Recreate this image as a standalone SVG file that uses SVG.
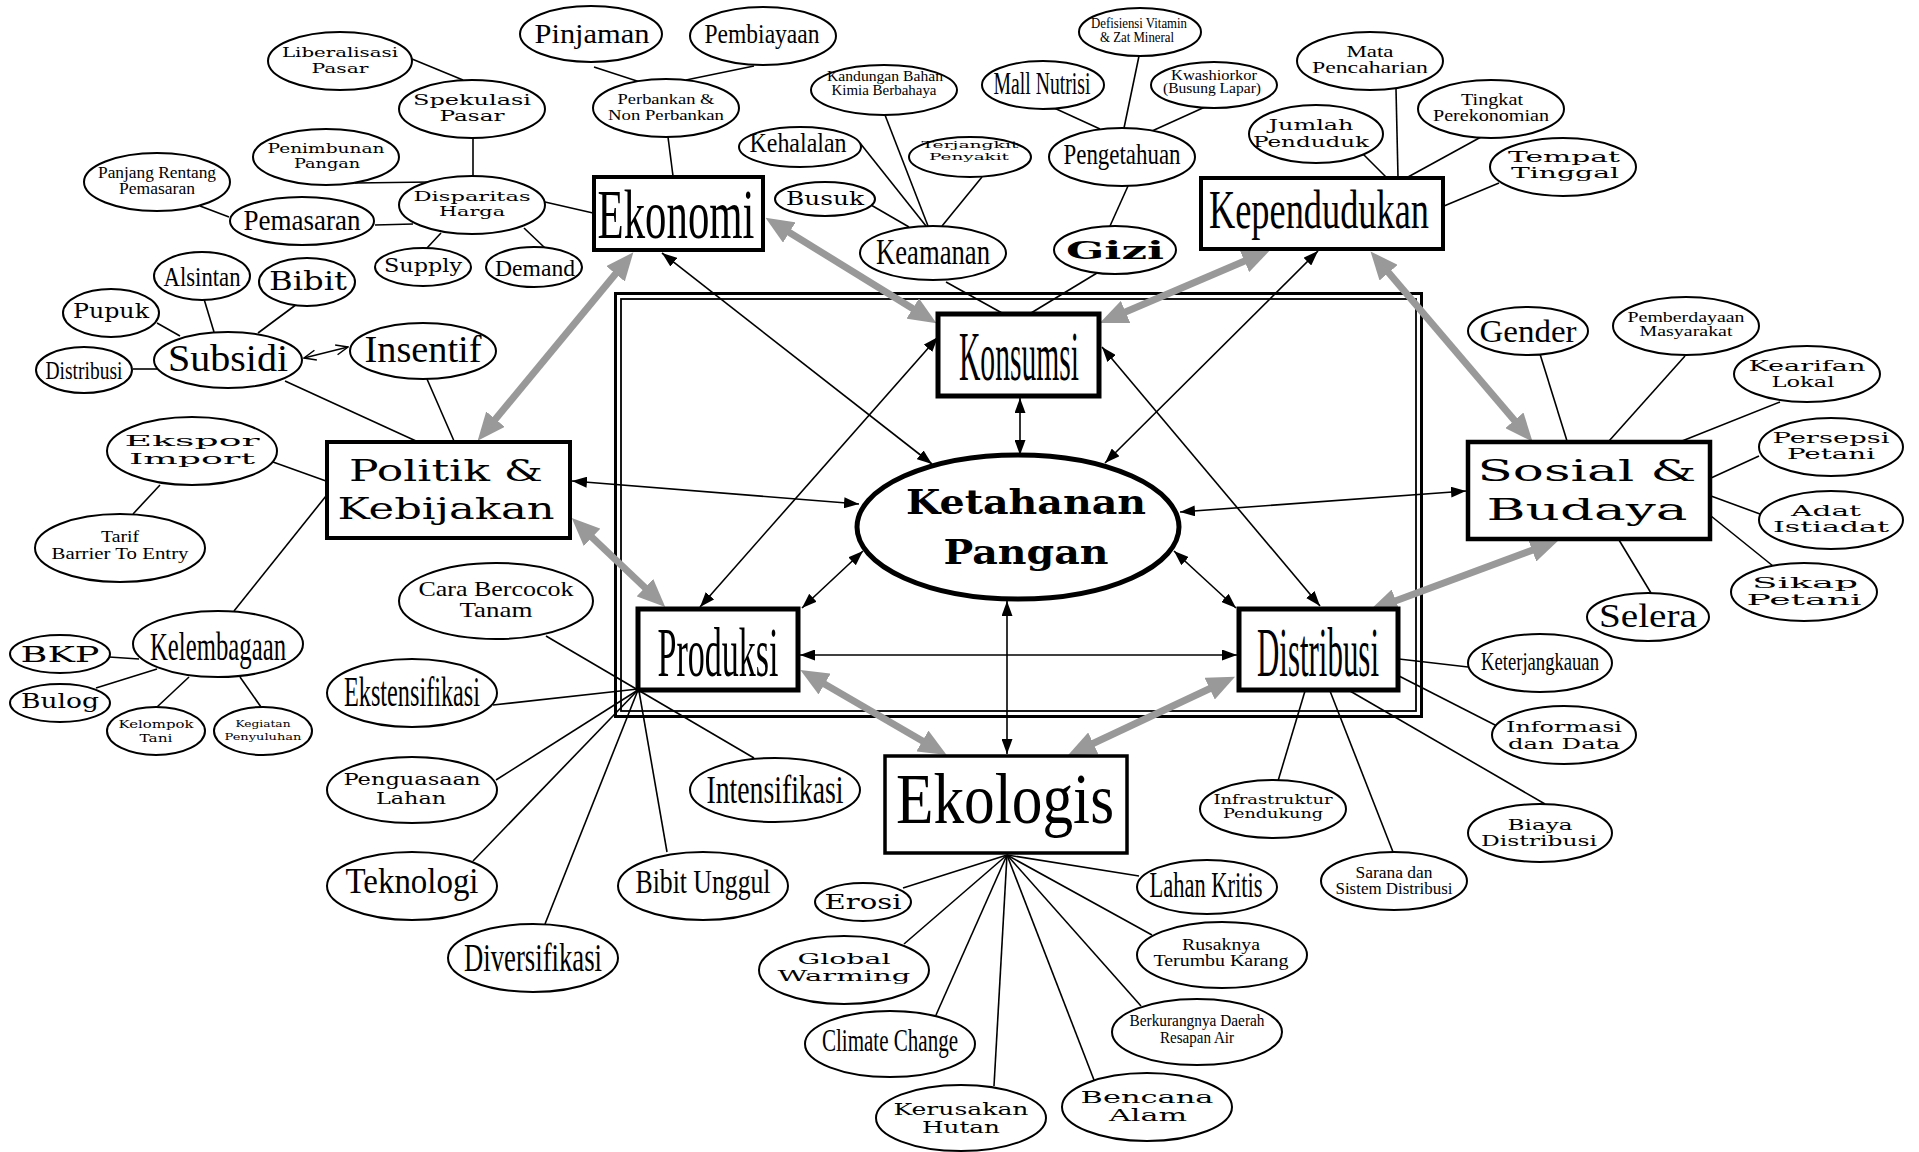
<svg xmlns="http://www.w3.org/2000/svg" width="1919" height="1152" viewBox="0 0 1919 1152">
<style>
text{fill:#000;text-anchor:middle}
.c,.r{font-family:"Liberation Serif",serif}
.w{font-family:"DejaVu Serif",serif}
.b{font-family:"DejaVu Serif",serif;font-weight:bold}
.n ellipse{fill:#fff;stroke:#000;stroke-width:2}
.box{fill:#fff;stroke:#000}
#connectors line{stroke:#000;stroke-width:1.6}
#connectors .g{stroke:#999;stroke-width:7;marker-start:url(#ga);marker-end:url(#ga)}
#connectors .a{marker-start:url(#ba);marker-end:url(#ba)}
</style>
<defs>
<marker id="ga" markerUnits="userSpaceOnUse" viewBox="0 0 28 24" markerWidth="28" markerHeight="24" refX="18" refY="12" orient="auto-start-reverse"><path d="M0,0 L28,12 L0,24 z" fill="#999"/></marker>
<marker id="ba" markerUnits="userSpaceOnUse" viewBox="0 0 15 11" markerWidth="15" markerHeight="11" refX="15" refY="5.5" orient="auto-start-reverse"><path d="M0,0 L15,5.5 L0,11 z" fill="#000"/></marker>
<marker id="oa" markerUnits="userSpaceOnUse" viewBox="0 0 14 12" markerWidth="14" markerHeight="12" refX="13" refY="6" orient="auto-start-reverse"><path d="M1,1 L13,6 L1,11" fill="none" stroke="#000" stroke-width="1.5"/></marker>
</defs>
<rect width="1919" height="1152" fill="#fff"/>
<g id="frame" fill="none" stroke="#000">
<rect x="615.5" y="293.5" width="806" height="423" stroke-width="3"/>
<rect x="621" y="299" width="795" height="412" stroke-width="1.8"/>
</g>
<g id="connectors">
<line x1="594" y1="67" x2="640" y2="82"/>
<line x1="754" y1="66" x2="686" y2="80"/>
<line x1="668" y1="137" x2="673" y2="176"/>
<line x1="545" y1="202" x2="593" y2="213"/>
<line x1="473" y1="138" x2="473" y2="176"/>
<line x1="412" y1="59" x2="463" y2="80"/>
<line x1="355" y1="183" x2="431" y2="182"/>
<line x1="375" y1="225" x2="413" y2="224"/>
<line x1="200" y1="206" x2="229" y2="217"/>
<line x1="441" y1="233" x2="427" y2="248"/>
<line x1="524" y1="228" x2="545" y2="248"/>
<line x1="157" y1="323" x2="180" y2="336"/>
<line x1="204" y1="299" x2="214" y2="332"/>
<line x1="297" y1="304" x2="258" y2="333"/>
<line x1="133" y1="369" x2="157" y2="369"/>
<line x1="285" y1="381" x2="416" y2="441"/>
<line x1="427" y1="379" x2="454" y2="441"/>
<line x1="304" y1="358" x2="348" y2="347" marker-start="url(#oa)" marker-end="url(#oa)"/>
<line x1="273" y1="462" x2="326" y2="481"/>
<line x1="160" y1="485" x2="133" y2="514"/>
<line x1="326" y1="496" x2="234" y2="611"/>
<line x1="109" y1="657" x2="139" y2="659"/>
<line x1="96" y1="688" x2="157" y2="669"/>
<line x1="157" y1="707" x2="189" y2="677"/>
<line x1="261" y1="707" x2="240" y2="677"/>
<line x1="546" y1="636" x2="638" y2="690"/>
<line x1="638" y1="690" x2="754" y2="758"/>
<line x1="493" y1="705" x2="638" y2="689"/>
<line x1="496" y1="780" x2="638" y2="690"/>
<line x1="473" y1="861" x2="638" y2="690"/>
<line x1="545" y1="924" x2="638" y2="690"/>
<line x1="667" y1="852" x2="639" y2="691"/>
<line x1="1007" y1="855" x2="903" y2="888"/>
<line x1="1007" y1="855" x2="904" y2="944"/>
<line x1="1007" y1="855" x2="936" y2="1015"/>
<line x1="1007" y1="855" x2="994" y2="1086"/>
<line x1="1007" y1="855" x2="1094" y2="1080"/>
<line x1="1007" y1="855" x2="1141" y2="1006"/>
<line x1="1007" y1="855" x2="1152" y2="935"/>
<line x1="1007" y1="855" x2="1139" y2="876"/>
<line x1="1399" y1="659" x2="1468" y2="667"/>
<line x1="1399" y1="676" x2="1497" y2="726"/>
<line x1="1350" y1="691" x2="1545" y2="804"/>
<line x1="1330" y1="691" x2="1393" y2="852"/>
<line x1="1305" y1="691" x2="1278" y2="781"/>
<line x1="1540" y1="354" x2="1567" y2="441"/>
<line x1="1685" y1="356" x2="1609" y2="441"/>
<line x1="1780" y1="402" x2="1682" y2="441"/>
<line x1="1759" y1="456" x2="1711" y2="478"/>
<line x1="1760" y1="514" x2="1711" y2="496"/>
<line x1="1773" y1="566" x2="1711" y2="516"/>
<line x1="1651" y1="593" x2="1619" y2="540"/>
<line x1="1363" y1="154" x2="1386" y2="177"/>
<line x1="1396" y1="89" x2="1398" y2="177"/>
<line x1="1481" y1="137" x2="1408" y2="177"/>
<line x1="1499" y1="183" x2="1444" y2="206"/>
<line x1="860" y1="143" x2="926" y2="226"/>
<line x1="885" y1="115" x2="928" y2="226"/>
<line x1="982" y1="177" x2="942" y2="226"/>
<line x1="871" y1="205" x2="909" y2="227"/>
<line x1="946" y1="282" x2="1002" y2="313"/>
<line x1="1097" y1="273" x2="1031" y2="313"/>
<line x1="1128" y1="186" x2="1110" y2="226"/>
<line x1="1052" y1="107" x2="1100" y2="129"/>
<line x1="1139" y1="56" x2="1124" y2="128"/>
<line x1="1205" y1="107" x2="1152" y2="131"/>
<line class="a" x1="1020" y1="398" x2="1020" y2="455"/>
<line class="a" x1="1007" y1="601" x2="1007" y2="754"/>
<line class="a" x1="800" y1="655" x2="1237" y2="655"/>
<line class="a" x1="863" y1="551" x2="802" y2="608"/>
<line class="a" x1="1174" y1="551" x2="1236" y2="608"/>
<line class="a" x1="1180" y1="512" x2="1466" y2="491"/>
<line class="a" x1="859" y1="504" x2="572" y2="481"/>
<line class="a" x1="662" y1="253" x2="932" y2="464"/>
<line class="a" x1="1318" y1="251" x2="1105" y2="463"/>
<line class="a" x1="938" y1="337" x2="700" y2="607"/>
<line class="a" x1="1102" y1="347" x2="1320" y2="606"/>
<line class="g" x1="627" y1="260" x2="484" y2="433"/>
<line class="g" x1="774" y1="223" x2="928" y2="318"/>
<line class="g" x1="1109" y1="319" x2="1261" y2="254"/>
<line class="g" x1="1377" y1="259" x2="1526" y2="434"/>
<line class="g" x1="1549" y1="544" x2="1379" y2="607"/>
<line class="g" x1="1226" y1="681" x2="1077" y2="751"/>
<line class="g" x1="809" y1="675" x2="938" y2="750"/>
<line class="g" x1="579" y1="525" x2="658" y2="600"/>
</g>
<g id="ketahanan-pangan"><ellipse cx="1018" cy="527" rx="161" ry="72" fill="#fff" stroke="#000" stroke-width="5"/>
<text class="b" x="1026" y="514" font-size="34" textLength="240" lengthAdjust="spacingAndGlyphs">Ketahanan</text>
<text class="b" x="1026" y="564" font-size="34" textLength="165" lengthAdjust="spacingAndGlyphs">Pangan</text></g>
<g id="ekonomi"><rect class="box" x="594" y="177" width="169" height="73" stroke-width="4"/><text class="c" x="676" y="238" font-size="70" textLength="157" lengthAdjust="spacingAndGlyphs">Ekonomi</text></g>
<g id="konsumsi"><rect class="box" x="938" y="314" width="161" height="82" stroke-width="5"/><text class="c" x="1019" y="380" font-size="70" textLength="120" lengthAdjust="spacingAndGlyphs">Konsumsi</text></g>
<g id="kependudukan"><rect class="box" x="1201" y="178" width="242" height="71" stroke-width="4"/><text class="c" x="1319" y="228" font-size="54" textLength="220" lengthAdjust="spacingAndGlyphs">Kependudukan</text></g>
<g id="politik"><rect class="box" x="327" y="442" width="243" height="96" stroke-width="4"/>
<text class="w" x="446" y="481" font-size="30" textLength="194" lengthAdjust="spacingAndGlyphs">Politik &amp;</text>
<text class="w" x="446" y="519" font-size="30" textLength="217" lengthAdjust="spacingAndGlyphs">Kebijakan</text></g>
<g id="sosial"><rect class="box" x="1468" y="442" width="242" height="97" stroke-width="4.5"/>
<text class="w" x="1587" y="481" font-size="30" textLength="219" lengthAdjust="spacingAndGlyphs">Sosial &amp;</text>
<text class="w" x="1587" y="520" font-size="30" textLength="201" lengthAdjust="spacingAndGlyphs">Budaya</text></g>
<g id="produksi"><rect class="box" x="638" y="609" width="160" height="81" stroke-width="5"/><text class="c" x="718" y="676" font-size="70" textLength="121" lengthAdjust="spacingAndGlyphs">Produksi</text></g>
<g id="distribusi"><rect class="box" x="1239" y="609" width="159" height="81" stroke-width="5"/><text class="c" x="1318" y="676" font-size="70" textLength="122" lengthAdjust="spacingAndGlyphs">Distribusi</text></g>
<g id="ekologis"><rect class="box" x="885" y="756" width="242" height="97" stroke-width="3.5"/><text class="r" x="1005" y="823" font-size="72" textLength="218" lengthAdjust="spacingAndGlyphs">Ekologis</text></g>
<g class="n">
<g id="pinjaman"><ellipse cx="591" cy="34" rx="71" ry="28"/><text class="c" x="592" y="43" font-size="27" textLength="115" lengthAdjust="spacingAndGlyphs">Pinjaman</text></g>
<g id="pembiayaan"><ellipse cx="763" cy="36" rx="73" ry="29"/><text class="c" x="762" y="43" font-size="27" textLength="115" lengthAdjust="spacingAndGlyphs">Pembiayaan</text></g>
<g id="perbankan"><ellipse cx="666" cy="108" rx="73" ry="29"/><text class="r" x="666" y="104" font-size="15" textLength="97" lengthAdjust="spacingAndGlyphs">Perbankan &amp;</text><text class="r" x="666" y="120" font-size="15" textLength="116" lengthAdjust="spacingAndGlyphs">Non Perbankan</text></g>
<g id="liberalisasi"><ellipse cx="340" cy="61" rx="72" ry="29"/><text class="w" x="340" y="57" font-size="13" textLength="116" lengthAdjust="spacingAndGlyphs">Liberalisasi</text><text class="w" x="340" y="73" font-size="13" textLength="57" lengthAdjust="spacingAndGlyphs">Pasar</text></g>
<g id="spekulasi"><ellipse cx="472" cy="109" rx="73" ry="29"/><text class="w" x="472" y="105" font-size="14" textLength="118" lengthAdjust="spacingAndGlyphs">Spekulasi</text><text class="w" x="472" y="121" font-size="14" textLength="65" lengthAdjust="spacingAndGlyphs">Pasar</text></g>
<g id="penimbunan"><ellipse cx="326" cy="157" rx="73" ry="28"/><text class="w" x="326" y="153" font-size="13" textLength="117" lengthAdjust="spacingAndGlyphs">Penimbunan</text><text class="w" x="327" y="168" font-size="13" textLength="66" lengthAdjust="spacingAndGlyphs">Pangan</text></g>
<g id="panjang"><ellipse cx="157" cy="182" rx="73" ry="29"/><text class="r" x="157" y="178" font-size="16" textLength="118" lengthAdjust="spacingAndGlyphs">Panjang Rentang</text><text class="r" x="157" y="194" font-size="16" textLength="76" lengthAdjust="spacingAndGlyphs">Pemasaran</text></g>
<g id="pemasaran"><ellipse cx="302" cy="221" rx="72" ry="24"/><text class="c" x="302" y="230" font-size="30" textLength="117" lengthAdjust="spacingAndGlyphs">Pemasaran</text></g>
<g id="disparitas"><ellipse cx="472" cy="205" rx="73" ry="29"/><text class="w" x="472" y="201" font-size="13" textLength="117" lengthAdjust="spacingAndGlyphs">Disparitas</text><text class="w" x="472" y="216" font-size="13" textLength="66" lengthAdjust="spacingAndGlyphs">Harga</text></g>
<g id="supply"><ellipse cx="423" cy="267" rx="48" ry="19"/><text class="w" x="423" y="272" font-size="18" textLength="78" lengthAdjust="spacingAndGlyphs">Supply</text></g>
<g id="demand"><ellipse cx="534" cy="267" rx="48" ry="20"/><text class="c" x="535" y="276" font-size="24" textLength="80" lengthAdjust="spacingAndGlyphs">Demand</text></g>
<g id="alsintan"><ellipse cx="202" cy="276" rx="48" ry="24"/><text class="c" x="202" y="286" font-size="28" textLength="77" lengthAdjust="spacingAndGlyphs">Alsintan</text></g>
<g id="bibit"><ellipse cx="307" cy="282" rx="48" ry="24"/><text class="w" x="308" y="290" font-size="26" textLength="78" lengthAdjust="spacingAndGlyphs">Bibit</text></g>
<g id="pupuk"><ellipse cx="111" cy="313" rx="48" ry="24"/><text class="w" x="111" y="318" font-size="21" textLength="76" lengthAdjust="spacingAndGlyphs">Pupuk</text></g>
<g id="subsidi"><ellipse cx="228" cy="360" rx="74" ry="28"/><text class="c" x="228" y="371" font-size="37" textLength="120" lengthAdjust="spacingAndGlyphs">Subsidi</text></g>
<g id="insentif"><ellipse cx="423" cy="351" rx="73" ry="28"/><text class="c" x="423" y="362" font-size="37" textLength="117" lengthAdjust="spacingAndGlyphs">Insentif</text></g>
<g id="distribusi-input"><ellipse cx="84" cy="370" rx="48" ry="23"/><text class="c" x="84" y="379" font-size="25" textLength="77" lengthAdjust="spacingAndGlyphs">Distribusi</text></g>
<g id="ekspor"><ellipse cx="192" cy="451" rx="85" ry="34"/><text class="w" x="192" y="446" font-size="15" textLength="135" lengthAdjust="spacingAndGlyphs">Ekspor</text><text class="w" x="192" y="464" font-size="15" textLength="126" lengthAdjust="spacingAndGlyphs">Import</text></g>
<g id="tarif"><ellipse cx="120" cy="548" rx="85" ry="34"/><text class="r" x="120" y="542" font-size="16" textLength="38" lengthAdjust="spacingAndGlyphs">Tarif</text><text class="r" x="120" y="559" font-size="16" textLength="137" lengthAdjust="spacingAndGlyphs">Barrier To Entry</text></g>
<g id="kelembagaan"><ellipse cx="218" cy="644" rx="85" ry="33"/><text class="c" x="218" y="660" font-size="40" textLength="136" lengthAdjust="spacingAndGlyphs">Kelembagaan</text></g>
<g id="bkp"><ellipse cx="60" cy="654" rx="50" ry="19"/><text class="w" x="60" y="662" font-size="22" textLength="79" lengthAdjust="spacingAndGlyphs">BKP</text></g>
<g id="bulog"><ellipse cx="60" cy="703" rx="50" ry="19"/><text class="w" x="60" y="708" font-size="20" textLength="78" lengthAdjust="spacingAndGlyphs">Bulog</text></g>
<g id="kelompok"><ellipse cx="156" cy="731" rx="49" ry="24"/><text class="w" x="156" y="728" font-size="11" textLength="75" lengthAdjust="spacingAndGlyphs">Kelompok</text><text class="w" x="156" y="742" font-size="11" textLength="33" lengthAdjust="spacingAndGlyphs">Tani</text></g>
<g id="kegiatan"><ellipse cx="263" cy="731" rx="49" ry="24"/><text class="w" x="263" y="727" font-size="10" textLength="55" lengthAdjust="spacingAndGlyphs">Kegiatan</text><text class="w" x="263" y="740" font-size="10" textLength="77" lengthAdjust="spacingAndGlyphs">Penyuluhan</text></g>
<g id="cara"><ellipse cx="496" cy="601" rx="97" ry="38"/><text class="r" x="496" y="596" font-size="21" textLength="155" lengthAdjust="spacingAndGlyphs">Cara Bercocok</text><text class="r" x="496" y="617" font-size="21" textLength="73" lengthAdjust="spacingAndGlyphs">Tanam</text></g>
<g id="ekstensifikasi"><ellipse cx="412" cy="693" rx="85" ry="34"/><text class="c" x="412" y="706" font-size="42" textLength="136" lengthAdjust="spacingAndGlyphs">Ekstensifikasi</text></g>
<g id="penguasaan"><ellipse cx="412" cy="790" rx="85" ry="33"/><text class="w" x="412" y="785" font-size="16" textLength="137" lengthAdjust="spacingAndGlyphs">Penguasaan</text><text class="w" x="411" y="804" font-size="16" textLength="70" lengthAdjust="spacingAndGlyphs">Lahan</text></g>
<g id="teknologi"><ellipse cx="412" cy="886" rx="85" ry="34"/><text class="c" x="412" y="893" font-size="35" textLength="133" lengthAdjust="spacingAndGlyphs">Teknologi</text></g>
<g id="diversifikasi"><ellipse cx="533" cy="958" rx="85" ry="34"/><text class="c" x="533" y="971" font-size="40" textLength="138" lengthAdjust="spacingAndGlyphs">Diversifikasi</text></g>
<g id="bibit-unggul"><ellipse cx="703" cy="886" rx="85" ry="34"/><text class="c" x="703" y="893" font-size="33" textLength="135" lengthAdjust="spacingAndGlyphs">Bibit Unggul</text></g>
<g id="intensifikasi"><ellipse cx="775" cy="790" rx="85" ry="32"/><text class="c" x="775" y="803" font-size="39" textLength="137" lengthAdjust="spacingAndGlyphs">Intensifikasi</text></g>
<g id="erosi"><ellipse cx="863" cy="902" rx="48" ry="19"/><text class="w" x="863" y="909" font-size="21" textLength="77" lengthAdjust="spacingAndGlyphs">Erosi</text></g>
<g id="lahan-kritis"><ellipse cx="1207" cy="887" rx="70" ry="27"/><text class="c" x="1206" y="897" font-size="35" textLength="113" lengthAdjust="spacingAndGlyphs">Lahan Kritis</text></g>
<g id="global-warming"><ellipse cx="844" cy="970" rx="85" ry="34"/><text class="w" x="844" y="964" font-size="15" textLength="93" lengthAdjust="spacingAndGlyphs">Global</text><text class="w" x="844" y="981" font-size="15" textLength="133" lengthAdjust="spacingAndGlyphs">Warming</text></g>
<g id="rusaknya"><ellipse cx="1222" cy="955" rx="85" ry="33"/><text class="r" x="1221" y="950" font-size="16" textLength="78" lengthAdjust="spacingAndGlyphs">Rusaknya</text><text class="r" x="1221" y="966" font-size="16" textLength="135" lengthAdjust="spacingAndGlyphs">Terumbu Karang</text></g>
<g id="climate-change"><ellipse cx="890" cy="1044" rx="85" ry="33"/><text class="c" x="890" y="1051" font-size="32" textLength="136" lengthAdjust="spacingAndGlyphs">Climate Change</text></g>
<g id="berkurangnya"><ellipse cx="1197" cy="1032" rx="85" ry="33"/><text class="c" x="1197" y="1026" font-size="17" textLength="135" lengthAdjust="spacingAndGlyphs">Berkurangnya Daerah</text><text class="c" x="1197" y="1043" font-size="17" textLength="74" lengthAdjust="spacingAndGlyphs">Resapan Air</text></g>
<g id="kerusakan-hutan"><ellipse cx="961" cy="1118" rx="85" ry="33"/><text class="w" x="961" y="1115" font-size="16" textLength="135" lengthAdjust="spacingAndGlyphs">Kerusakan</text><text class="w" x="961" y="1133" font-size="16" textLength="78" lengthAdjust="spacingAndGlyphs">Hutan</text></g>
<g id="bencana-alam"><ellipse cx="1147" cy="1107" rx="85" ry="34"/><text class="w" x="1147" y="1103" font-size="17" textLength="133" lengthAdjust="spacingAndGlyphs">Bencana</text><text class="w" x="1148" y="1121" font-size="17" textLength="78" lengthAdjust="spacingAndGlyphs">Alam</text></g>
<g id="keterjangkauan"><ellipse cx="1540" cy="663" rx="72" ry="29"/><text class="c" x="1540" y="670" font-size="26" textLength="118" lengthAdjust="spacingAndGlyphs">Keterjangkauan</text></g>
<g id="informasi"><ellipse cx="1564" cy="735" rx="72" ry="29"/><text class="w" x="1564" y="732" font-size="14" textLength="116" lengthAdjust="spacingAndGlyphs">Informasi</text><text class="w" x="1564" y="749" font-size="14" textLength="112" lengthAdjust="spacingAndGlyphs">dan Data</text></g>
<g id="biaya"><ellipse cx="1540" cy="833" rx="72" ry="29"/><text class="w" x="1540" y="830" font-size="15" textLength="65" lengthAdjust="spacingAndGlyphs">Biaya</text><text class="w" x="1539" y="846" font-size="15" textLength="116" lengthAdjust="spacingAndGlyphs">Distribusi</text></g>
<g id="sarana"><ellipse cx="1394" cy="881" rx="73" ry="29"/><text class="r" x="1394" y="878" font-size="16" textLength="77" lengthAdjust="spacingAndGlyphs">Sarana dan</text><text class="r" x="1394" y="894" font-size="16" textLength="117" lengthAdjust="spacingAndGlyphs">Sistem Distribusi</text></g>
<g id="infrastruktur"><ellipse cx="1273" cy="809" rx="73" ry="29"/><text class="w" x="1273" y="804" font-size="12" textLength="119" lengthAdjust="spacingAndGlyphs">Infrastruktur</text><text class="w" x="1273" y="818" font-size="12" textLength="100" lengthAdjust="spacingAndGlyphs">Pendukung</text></g>
<g id="gender"><ellipse cx="1528" cy="331" rx="60" ry="24"/><text class="c" x="1528" y="342" font-size="31" textLength="97" lengthAdjust="spacingAndGlyphs">Gender</text></g>
<g id="pemberdayaan"><ellipse cx="1686" cy="326" rx="73" ry="29"/><text class="r" x="1686" y="322" font-size="15" textLength="117" lengthAdjust="spacingAndGlyphs">Pemberdayaan</text><text class="r" x="1686" y="336" font-size="15" textLength="93" lengthAdjust="spacingAndGlyphs">Masyarakat</text></g>
<g id="kearifan"><ellipse cx="1807" cy="374" rx="73" ry="28"/><text class="w" x="1807" y="371" font-size="14" textLength="117" lengthAdjust="spacingAndGlyphs">Kearifan</text><text class="w" x="1803" y="387" font-size="14" textLength="63" lengthAdjust="spacingAndGlyphs">Lokal</text></g>
<g id="persepsi"><ellipse cx="1831" cy="447" rx="72" ry="29"/><text class="w" x="1831" y="443" font-size="14" textLength="117" lengthAdjust="spacingAndGlyphs">Persepsi</text><text class="w" x="1831" y="459" font-size="14" textLength="88" lengthAdjust="spacingAndGlyphs">Petani</text></g>
<g id="adat"><ellipse cx="1831" cy="520" rx="72" ry="29"/><text class="w" x="1826" y="516" font-size="14" textLength="70" lengthAdjust="spacingAndGlyphs">Adat</text><text class="w" x="1831" y="532" font-size="14" textLength="116" lengthAdjust="spacingAndGlyphs">Istiadat</text></g>
<g id="sikap"><ellipse cx="1804" cy="592" rx="73" ry="29"/><text class="w" x="1805" y="588" font-size="15" textLength="106" lengthAdjust="spacingAndGlyphs">Sikap</text><text class="w" x="1804" y="605" font-size="15" textLength="115" lengthAdjust="spacingAndGlyphs">Petani</text></g>
<g id="selera"><ellipse cx="1648" cy="617" rx="61" ry="24"/><text class="c" x="1648" y="627" font-size="33" textLength="98" lengthAdjust="spacingAndGlyphs">Selera</text></g>
<g id="mata"><ellipse cx="1370" cy="61" rx="73" ry="29"/><text class="r" x="1370" y="57" font-size="17" textLength="47" lengthAdjust="spacingAndGlyphs">Mata</text><text class="r" x="1370" y="73" font-size="17" textLength="116" lengthAdjust="spacingAndGlyphs">Pencaharian</text></g>
<g id="jumlah"><ellipse cx="1316" cy="134" rx="67" ry="29"/><text class="w" x="1311" y="130" font-size="14" textLength="85" lengthAdjust="spacingAndGlyphs">Jumlah</text><text class="w" x="1311" y="147" font-size="14" textLength="116" lengthAdjust="spacingAndGlyphs">Penduduk</text></g>
<g id="tingkat"><ellipse cx="1491" cy="109" rx="73" ry="29"/><text class="r" x="1492" y="105" font-size="17" textLength="62" lengthAdjust="spacingAndGlyphs">Tingkat</text><text class="r" x="1491" y="121" font-size="17" textLength="116" lengthAdjust="spacingAndGlyphs">Perekonomian</text></g>
<g id="tempat"><ellipse cx="1563" cy="167" rx="73" ry="29"/><text class="w" x="1564" y="162" font-size="14" textLength="112" lengthAdjust="spacingAndGlyphs">Tempat</text><text class="w" x="1565" y="178" font-size="14" textLength="108" lengthAdjust="spacingAndGlyphs">Tinggal</text></g>
<g id="kandungan"><ellipse cx="884" cy="90" rx="73" ry="25"/><text class="r" x="885" y="81" font-size="14" textLength="116" lengthAdjust="spacingAndGlyphs">Kandungan Bahan</text><text class="r" x="884" y="95" font-size="14" textLength="105" lengthAdjust="spacingAndGlyphs">Kimia Berbahaya</text></g>
<g id="kehalalan"><ellipse cx="800" cy="147" rx="61" ry="20"/><text class="c" x="798" y="152" font-size="27" textLength="97" lengthAdjust="spacingAndGlyphs">Kehalalan</text></g>
<g id="terjangkit"><ellipse cx="970" cy="157" rx="61" ry="20"/><text class="w" x="970" y="148" font-size="10" textLength="97" lengthAdjust="spacingAndGlyphs">Terjangkit</text><text class="w" x="969" y="160" font-size="10" textLength="80" lengthAdjust="spacingAndGlyphs">Penyakit</text></g>
<g id="busuk"><ellipse cx="825" cy="199" rx="50" ry="17"/><text class="w" x="825" y="205" font-size="19" textLength="78" lengthAdjust="spacingAndGlyphs">Busuk</text></g>
<g id="keamanan"><ellipse cx="933" cy="253" rx="73" ry="27"/><text class="c" x="933" y="264" font-size="35" textLength="114" lengthAdjust="spacingAndGlyphs">Keamanan</text></g>
<g id="mall-nutrisi"><ellipse cx="1043" cy="85" rx="61" ry="24"/><text class="c" x="1042" y="94" font-size="31" textLength="97" lengthAdjust="spacingAndGlyphs">Mall Nutrisi</text></g>
<g id="defisiensi"><ellipse cx="1140" cy="32" rx="61" ry="24"/><text class="c" x="1139" y="28" font-size="14" textLength="96" lengthAdjust="spacingAndGlyphs">Defisiensi Vitamin</text><text class="c" x="1137" y="42" font-size="14" textLength="74" lengthAdjust="spacingAndGlyphs">&amp; Zat Mineral</text></g>
<g id="kwashiorkor"><ellipse cx="1214" cy="85" rx="63" ry="23"/><text class="r" x="1214" y="80" font-size="14" textLength="86" lengthAdjust="spacingAndGlyphs">Kwashiorkor</text><text class="r" x="1212" y="93" font-size="14" textLength="98" lengthAdjust="spacingAndGlyphs">(Busung Lapar)</text></g>
<g id="pengetahuan"><ellipse cx="1122" cy="157" rx="73" ry="29"/><text class="c" x="1122" y="164" font-size="30" textLength="117" lengthAdjust="spacingAndGlyphs">Pengetahuan</text></g>
<g id="gizi"><ellipse cx="1115" cy="250" rx="61" ry="24"/><text class="b" x="1115" y="259" font-size="24" textLength="98" lengthAdjust="spacingAndGlyphs">Gizi</text></g>
</g>
</svg>
